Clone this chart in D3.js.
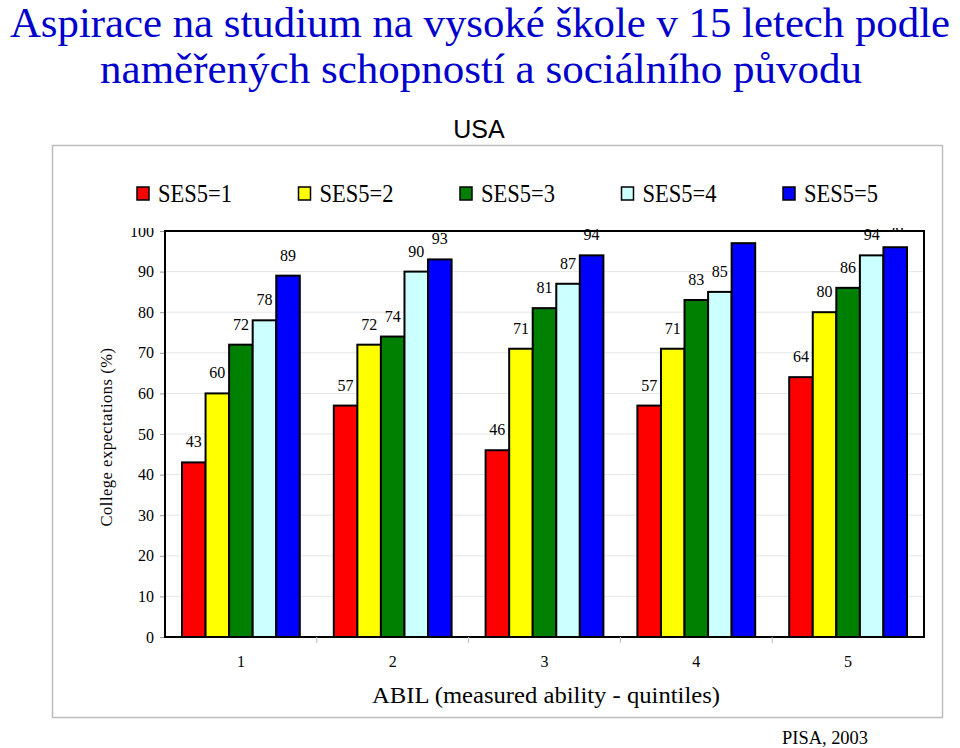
<!DOCTYPE html>
<html><head><meta charset="utf-8">
<script src="https://cdn.jsdelivr.net/npm/d3@7"></script>
<style>body{margin:0;background:#fff}svg{display:block}</style>
</head><body>
<script>
const categories = ["1","2","3","4","5"];
const seriesNames = ["SES5=1","SES5=2","SES5=3","SES5=4","SES5=5"];
const ses1 = [43, 57, 46, 57, 64];
const ses2 = [60, 72, 71, 71, 80];
const ses3 = [72, 74, 81, 83, 86];
const ses4 = [78, 90, 87, 85, 94];
const ses5 = [89, 93, 94, 97, 96];
const yTicks = [0,10,20,30,40,50,60,70,80,90,100];
const colors = ["#ff0000","#ffff00","#008000","#ccffff","#0000ff"];
const seriesValues = [ses1, ses2, ses3, ses4, ses5];

const W = 960, H = 748;
const svg = d3.select("body").append("svg").attr("width", W).attr("height", H);
const serif = "'Liberation Serif','Times New Roman',serif";

// Title
svg.append("text").attr("x", 480).attr("y", 37).attr("text-anchor","middle")
  .attr("font-family", serif).attr("font-size", 42.8).attr("fill","#0000cc")
  .text("Aspirace na studium na vysoké škole v 15 letech podle");
svg.append("text").attr("x", 481).attr("y", 83).attr("text-anchor","middle")
  .attr("font-family", serif).attr("font-size", 43).attr("fill","#0000cc")
  .text("naměřených schopností a sociálního původu");
svg.append("text").attr("x", 479).attr("y", 138).attr("text-anchor","middle")
  .attr("font-family","'Liberation Sans',Arial,sans-serif").attr("font-size", 25).attr("fill","#000")
  .text("USA");

// Outer frame
svg.append("rect").attr("x", 52.5).attr("y", 145.5).attr("width", 890).attr("height", 572)
  .attr("fill","none").attr("stroke","#bdbdbd").attr("stroke-width",1.5);

// Legend
const leg = svg.append("g");
seriesNames.forEach((n,i)=>{
  const x0 = 137 + i*161.5;
  leg.append("rect").attr("x", x0).attr("y", 187).attr("width", 12).attr("height", 13)
    .attr("fill", colors[i]).attr("stroke","#000").attr("stroke-width",1.5);
  leg.append("text").attr("x", x0+21).attr("y", 202).attr("font-family", serif)
    .attr("font-size", 25).attr("textLength", 74).attr("lengthAdjust","spacingAndGlyphs").text(n);
});

// Plot
const L = 165, R = 924, T = 231, B = 637;
svg.append("defs").append("clipPath").attr("id","clip")
  .append("rect").attr("x", 0).attr("y", 228).attr("width", W).attr("height", H-228);
const g = svg.append("g").attr("clip-path","url(#clip)");

const x0 = d3.scaleBand().domain(categories).range([L, R]).paddingInner(0.224).paddingOuter(0.112);
const x1 = d3.scaleBand().domain(d3.range(5)).range([0, x0.bandwidth()]);
const y = d3.scaleLinear().domain([0,100]).range([B, T]);

// gridlines
g.selectAll("line.grid").data(yTicks.slice(1,-1)).join("line")
  .attr("x1", L).attr("x2", R).attr("y1", d=>y(d)).attr("y2", d=>y(d))
  .attr("stroke","#e6e6e6").attr("stroke-width",1);

// y axis
const yAxis = g.append("g").attr("transform",`translate(${L},0)`)
  .call(d3.axisLeft(y).tickValues(yTicks).tickSize(5).tickPadding(6));
yAxis.attr("font-family", serif);
yAxis.select(".domain").remove();
yAxis.selectAll(".tick line").attr("stroke","#999");
yAxis.selectAll("text").attr("font-family", serif).attr("font-size", 16).attr("fill","#000");

// bars
categories.forEach((c,ci)=>{
  const gg = g.append("g").attr("transform",`translate(${x0(c)},0)`);
  seriesValues.forEach((vals,si)=>{
    gg.append("rect").attr("x", x1(si)).attr("y", y(vals[ci]))
      .attr("width", x1.bandwidth()).attr("height", y(0)-y(vals[ci]))
      .attr("fill", colors[si]).attr("stroke","#000").attr("stroke-width",2);
  });
  seriesValues.forEach((vals,si)=>{
    gg.append("text").attr("x", x1(si)+x1.bandwidth()/2).attr("y", y(vals[ci])-15)
      .attr("text-anchor","middle").attr("font-family", serif).attr("font-size",16)
      .text(vals[ci]);
  });
});

// plot border
g.append("rect").attr("x", L).attr("y", T).attr("width", R-L).attr("height", B-T)
  .attr("fill","none").attr("stroke","#000").attr("stroke-width",2);

// x axis
const xAxis = svg.append("g").attr("transform",`translate(0,${B})`)
  .call(d3.axisBottom(x0).tickSize(0).tickPadding(19));
xAxis.attr("font-family", serif);
xAxis.select(".domain").remove();
xAxis.selectAll("text").attr("font-family", serif).attr("font-size",16).attr("fill","#000");
// category separators
const seps = categories.slice(1).map(c => x0(c) - x0.step()*x0.paddingInner()/2);
svg.selectAll("line.sep").data(seps).join("line")
  .attr("x1", d=>d).attr("x2", d=>d).attr("y1", B).attr("y2", B+6)
  .attr("stroke","#bbb").attr("stroke-width",1);

svg.append("text").attr("x", 372).attr("y", 703)
  .attr("font-family", serif).attr("font-size", 24)
  .attr("textLength", 348).attr("lengthAdjust","spacingAndGlyphs")
  .text("ABIL (measured ability - quintiles)");

svg.append("text").attr("transform","translate(112,437) rotate(-90)").attr("text-anchor","middle")
  .attr("font-family", serif).attr("font-size", 16.5).attr("letter-spacing", 0.5)
  .text("College expectations (%)");

svg.append("text").attr("x", 782).attr("y", 744)
  .attr("font-family", serif).attr("font-size", 19)
  .attr("textLength", 86).attr("lengthAdjust","spacingAndGlyphs").text("PISA, 2003");
</script>
</body></html>
